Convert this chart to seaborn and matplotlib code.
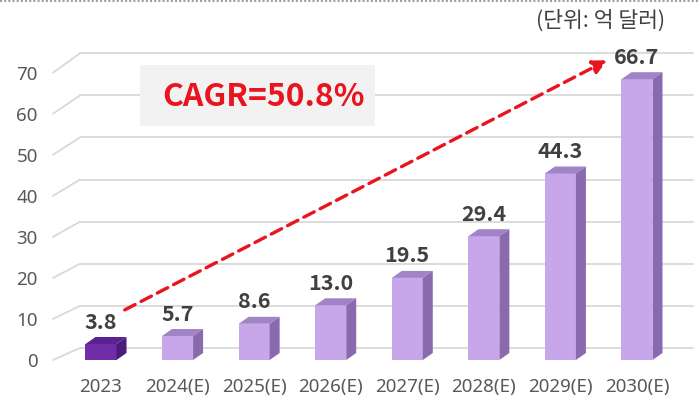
import numpy as np
import pandas as pd
import matplotlib
matplotlib.use("Agg")
import matplotlib.pyplot as plt
import matplotlib.transforms as mtransforms
from matplotlib.patches import Polygon, Rectangle
from matplotlib.lines import Line2D
import seaborn as sns

# ---------------- data ----------------
categories = ["2023", "2024(E)", "2025(E)", "2026(E)", "2027(E)", "2028(E)", "2029(E)", "2030(E)"]
values = [3.8, 5.7, 8.6, 13.0, 19.5, 29.4, 44.3, 66.7]
value_labels = ["3.8", "5.7", "8.6", "13.0", "19.5", "29.4", "44.3", "66.7"]
y_ticks = [0, 10, 20, 30, 40, 50, 60, 70]
cagr_text = "CAGR=50.8%"
unit_text = "(단위: 억 달러)"

# ---------------- style ----------------
sns.set_theme(style="white")
plt.rcParams["font.family"] = ["Noto Sans CJK KR", "Noto Sans", "DejaVu Sans"]

W, H, DPI = 698, 403, 100
fig = plt.figure(figsize=(W / DPI, H / DPI), dpi=DPI)

def fx(px):
    return px / W

def fy(py):
    return 1 - py / H

# main axes (front plane): px 53..668 horizontally, baseline at px 360
ax_left, ax_right, ax_top, ax_bottom = 53, 668, 40, 360
pos = [fx(ax_left), fy(ax_bottom), (ax_right - ax_left) / W, (ax_bottom - ax_top) / H]

axL = fig.add_axes(pos, zorder=0)
ax = fig.add_axes(pos, zorder=1)
ax.patch.set_alpha(0)

front_colors = ["#6F2DA8"] + ["#C8A6EA"] * (len(values) - 1)
top_colors = ["#5A2390"] + ["#A084C6"] * (len(values) - 1)
side_colors = ["#4A1B78"] + ["#8A6AAE"] * (len(values) - 1)

df = pd.DataFrame({"cat": categories, "val": values})
sns.barplot(data=df, x="cat", y="val", hue="cat", palette=front_colors, legend=False,
            width=0.405, saturation=1, ax=ax, zorder=3, linewidth=0, edgecolor="none")

spacing = 76.57  # px per category
ax.set_xlim((ax_left - 101) / spacing, (ax_right - 101) / spacing)
scale = 4.21  # px per unit
ax.set_ylim(0, (ax_bottom - ax_top) / scale)

# label axes: 0 -> px 363, 70 -> px 73
lab_scale = (363 - 73) / 70
axL.set_ylim((363 - ax_bottom) / lab_scale, (363 - ax_top) / lab_scale)
axL.set_xlim(0, 1)
axL.set_yticks(y_ticks)
axL.set_yticklabels([str(t) for t in y_ticks], color="#595959", fontsize=13.5,
                    family=["Noto Sans", "DejaVu Sans"])
axL.tick_params(axis="y", length=0, pad=11)
axL.set_xticks([])
for a in (ax, axL):
    for s in a.spines.values():
        s.set_visible(False)
axL.patch.set_alpha(0)

ax.set_yticks([])
ax.set_xlabel("")
ax.set_ylabel("")
ax.tick_params(axis="x", length=0, pad=13, labelsize=13.5, labelcolor="#595959")
for t in ax.get_xticklabels():
    t.set_family(["Noto Sans", "DejaVu Sans"])

fig.canvas.draw()

# ---------------- back wall gridlines ----------------
wall_dy = 12  # px upward
grid_color = "#D9D9D9"
wall_x0, wall_x1 = 80, 693
for t in y_ticks:
    gy = ax.transData.transform((0, t))[1] + wall_dy
    ly = axL.transData.transform((0, t))[1]
    fig.add_artist(Line2D([fx(wall_x0), fx(wall_x1)], [gy / H, gy / H], color=grid_color,
                          lw=1.3, transform=fig.transFigure, zorder=0.5))
    fig.add_artist(Line2D([fx(ax_left), fx(wall_x0)], [ly / H, gy / H], color=grid_color,
                          lw=1.3, transform=fig.transFigure, zorder=0.5))

# ---------------- 3D faces ----------------
ddx, ddy = 10, 7
inv = ax.transData.inverted()
for i, p in enumerate(ax.patches[:len(values)]):
    x0, y0 = p.get_x(), p.get_y()
    w, h = p.get_width(), p.get_height()
    (X0, Y0) = ax.transData.transform((x0, y0))
    (X1, Y1) = ax.transData.transform((x0 + w, y0 + h))
    top = [(X0, Y1), (X1, Y1), (X1 + ddx, Y1 + ddy), (X0 + ddx, Y1 + ddy)]
    side = [(X1, Y0), (X1 + ddx, Y0 + ddy), (X1 + ddx, Y1 + ddy), (X1, Y1)]
    ax.add_patch(Polygon([inv.transform(q) for q in top], closed=True,
                         facecolor=top_colors[i], edgecolor="none", zorder=3, clip_on=False))
    ax.add_patch(Polygon([inv.transform(q) for q in side], closed=True,
                         facecolor=side_colors[i], edgecolor="none", zorder=3, clip_on=False))
    lab_tr = mtransforms.offset_copy(ax.transData, fig=fig, x=0, y=22, units="dots")
    ax.text(x0 + w / 2, y0 + h, value_labels[i], transform=lab_tr, ha="center", va="center",
            fontsize=15.5, fontweight="bold", color="#404040",
            family=["Noto Sans CJK KR", "DejaVu Sans"], zorder=5, clip_on=False)

# ---------------- CAGR arrow ----------------
start = (0 + 0.31, values[0] + 8.1)
end = (len(values) - 1 - 0.39, values[-1] + 4.5)
red = "#E8141E"
ax.annotate("", xy=end, xytext=start,
            arrowprops=dict(arrowstyle="-|>,head_length=0.7,head_width=0.35", color=red,
                            lw=2.4, linestyle=(0, (3.5, 2)), shrinkA=0, shrinkB=0),
            zorder=4, annotation_clip=False)

# CAGR box
fig.add_artist(Rectangle((fx(140), fy(126)), (375 - 140) / W, (126 - 65) / H,
                         transform=fig.transFigure, facecolor="#F2F2F2", edgecolor="none", zorder=2))
fig.text(fx(263), fy(97), cagr_text, ha="center", va="center", fontsize=23, fontweight="bold",
         color=red, family=["Noto Sans CJK KR", "DejaVu Sans"], zorder=6)

# unit text
fig.text(fx(601), fy(21), unit_text, ha="center", va="center", fontsize=15.5, color="#404040",
         family=["Noto Sans CJK KR", "DejaVu Sans"])

# dotted top border
fig.add_artist(Line2D([0, 1], [fy(1), fy(1)], color="#A0A0A0", lw=1.5, linestyle=(0, (1, 1)),
                      transform=fig.transFigure))

fig.savefig("out.png", dpi=DPI)
